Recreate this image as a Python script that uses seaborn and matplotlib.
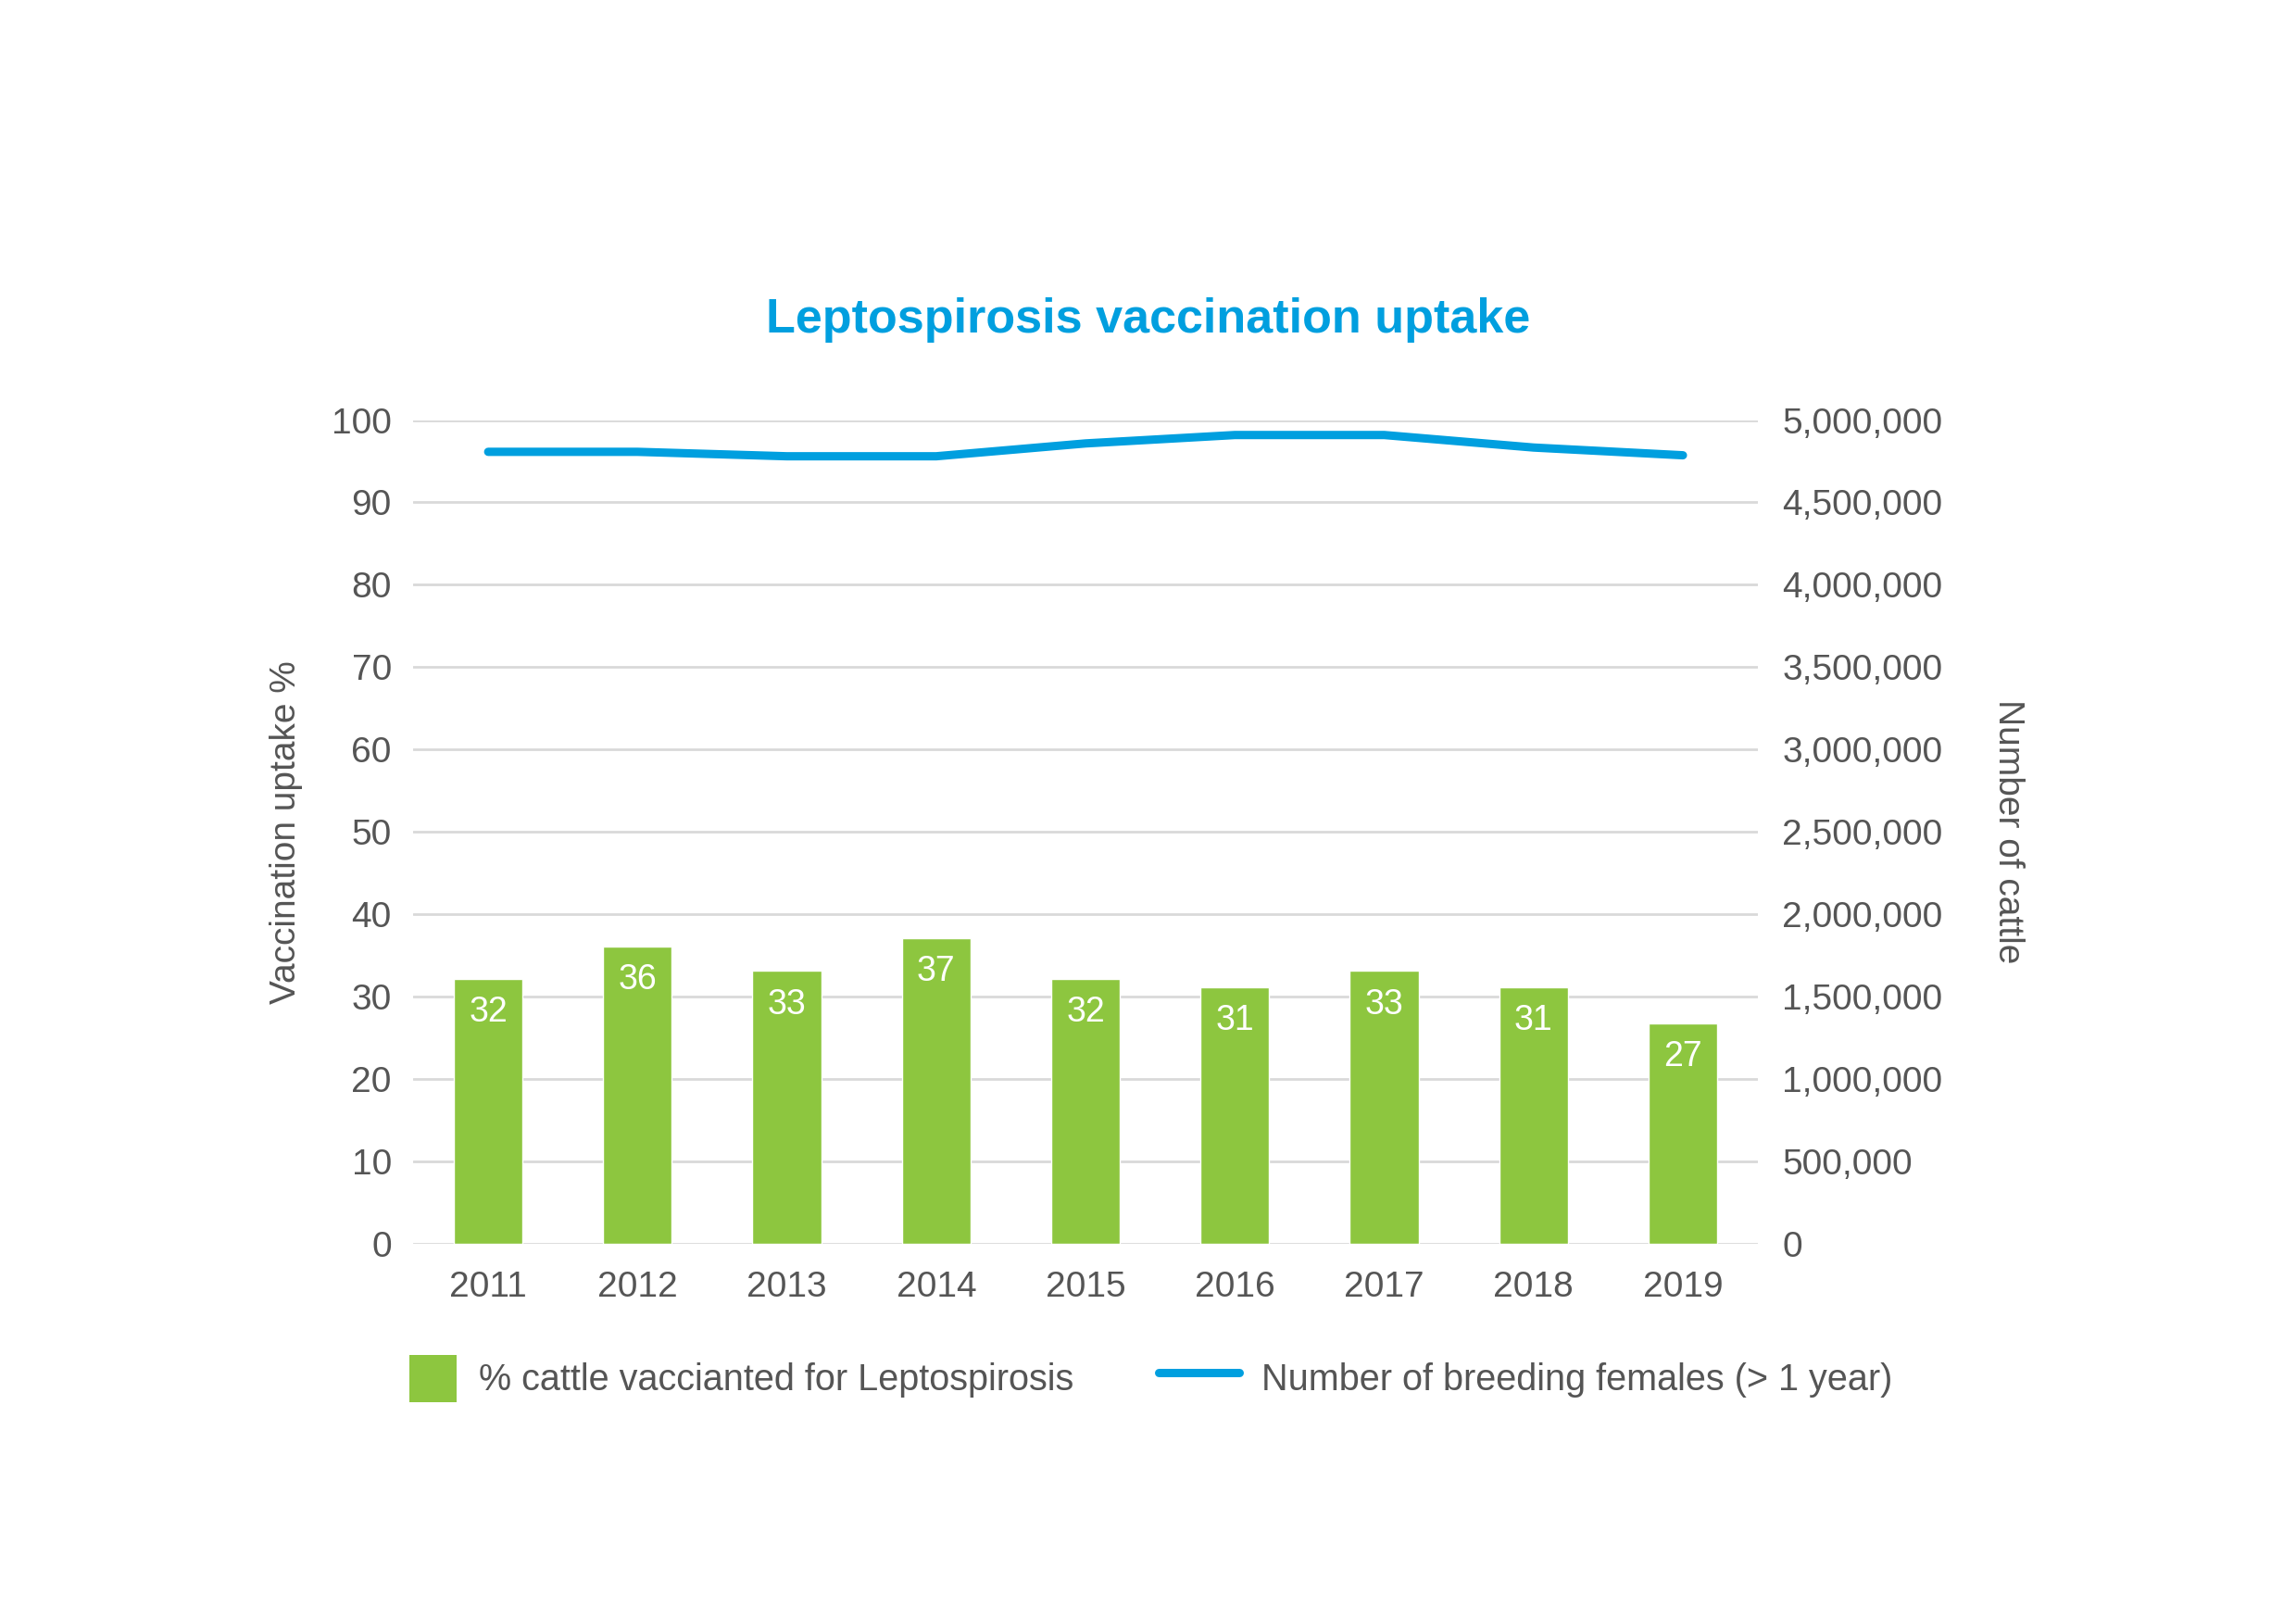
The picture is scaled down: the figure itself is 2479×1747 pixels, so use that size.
import numpy as np
import pandas as pd
import seaborn as sns
import matplotlib.pyplot as plt
from matplotlib.patches import Patch, Rectangle
from matplotlib.lines import Line2D
from matplotlib.legend_handler import HandlerPatch
from matplotlib.ticker import FuncFormatter

years = ['2011', '2012', '2013', '2014', '2015', '2016', '2017', '2018', '2019']
pct_vaccinated = [32.1, 36.1, 33.1, 37.1, 32.1, 31.1, 33.1, 31.1, 26.7]
pct_labels = ['32', '36', '33', '37', '32', '31', '33', '31', '27']
breeding_females = [4807000, 4807000, 4780000, 4780000, 4858000, 4909000, 4909000, 4833000, 4786000]

green = '#8DC63F'
blue = '#009FDF'
grey_text = '#555555'

sns.set_theme(style='white')
plt.rcParams['font.family'] = ['Liberation Sans', 'DejaVu Sans']

df = pd.DataFrame({'year': years, 'pct': pct_vaccinated,
                   'pos': np.arange(len(years)), 'cattle': breeding_females})

fig = plt.figure(figsize=(24.79, 17.47), dpi=100)
ax = fig.add_axes([0.1801, 0.2314, 0.5854, 0.509])

sns.barplot(data=df, x='year', y='pct', color=green, width=0.46,
            saturation=1, ax=ax, zorder=3)
ax.set_ylim(0, 100)
ax.set_xlim(-0.5, len(years) - 0.5)
ax.set_yticks(range(0, 101, 10))
ax.grid(axis='y', color='#D9D9D9', linewidth=2, zorder=0)
ax.set_axisbelow(True)
for s in ax.spines.values():
    s.set_visible(False)
ax.tick_params(axis='both', length=0, labelsize=28, colors=grey_text)
ax.tick_params(axis='y', pad=17)
ax.tick_params(axis='x', pad=21)
ax.set_xlabel('')
ax.set_ylabel('Vaccination uptake %', fontsize=28, color=grey_text, labelpad=22)

# value labels inside bars
for i, bar in enumerate(ax.patches):
    ax.annotate(pct_labels[i], (bar.get_x() + bar.get_width() / 2, bar.get_height()),
                xytext=(0, -26), textcoords='offset points', ha='center', va='center',
                fontsize=27, color='white', zorder=5)

ax2 = ax.twinx()
sns.lineplot(data=df, x='pos', y='cattle', color=blue, linewidth=6.5,
             solid_capstyle='round', ax=ax2, zorder=4)
ax2.set_ylim(0, 5000000)
ax2.set_yticks(range(0, 5000001, 500000))
ax2.yaxis.set_major_formatter(FuncFormatter(lambda v, p: f'{int(v):,}'))
for s in ax2.spines.values():
    s.set_visible(False)
ax2.tick_params(axis='y', length=0, labelsize=28, colors=grey_text, pad=19)
ax2.set_ylabel('Number of cattle', fontsize=28, color=grey_text, rotation=-90,
               labelpad=64)
ax2.set_xlim(-0.5, len(years) - 0.5)

fig.text(0.500, 0.802, 'Leptospirosis vaccination uptake', ha='center', va='center',
         fontsize=37.5, fontweight='bold', color=blue)


# square patch handle, sitting at the right of the handle box
def square_patch(legend, orig_handle, xdescent, ydescent, width, height, fontsize):
    side = height
    return Rectangle((width - side - xdescent, -ydescent), side, side)


handles = [Patch(facecolor=green, edgecolor='none'),
           Line2D([0], [0], color=blue, linewidth=6.5, solid_capstyle='round')]
labels = ['% cattle vaccianted for Leptospirosis', 'Number of breeding females (> 1 year)']
leg = fig.legend(handles, labels, loc='center', bbox_to_anchor=(0.494, 0.148), ncol=2,
                 frameon=False, fontsize=28.5, handlelength=2.2, handleheight=1.6,
                 columnspacing=2.3, handletextpad=0.62,
                 handler_map={Patch: HandlerPatch(patch_func=square_patch)})
for t in leg.get_texts():
    t.set_color(grey_text)

plt.savefig('out.png', dpi=100)
